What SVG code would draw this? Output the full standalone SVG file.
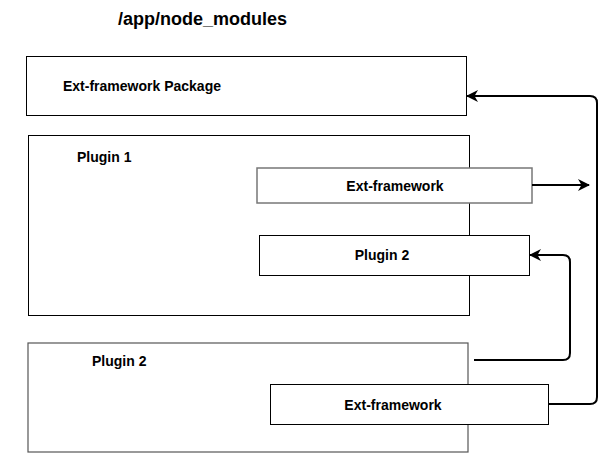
<svg xmlns="http://www.w3.org/2000/svg" width="607" height="454" viewBox="0 0 607 454">
<style>
.box{fill:#fff;stroke:#000;stroke-width:1}
.gbox{fill:#fff;stroke:#777;stroke-width:1.5}
.g2{fill:#fff;stroke:#555;stroke-width:1.2}
.t{font-family:"Liberation Sans",Arial,sans-serif;font-weight:bold;font-size:14px;fill:#000}
.c{fill:none;stroke:#000;stroke-width:2}
</style>
<defs>
<marker id="ah" markerWidth="12" markerHeight="12" refX="11" refY="6" orient="auto" markerUnits="userSpaceOnUse" viewBox="0 0 12 12">
<path d="M0,0 L12,6 L0,12 L3.5,6 Z" fill="#000"/>
</marker>
</defs>
<text x="118" y="25" style="font-family:'Liberation Sans',Arial,sans-serif;font-weight:bold;font-size:18px">/app/node_modules</text>
<g id="pkg">
<rect class="box" x="26.5" y="56.5" width="440" height="59"/>
<text class="t" x="63" y="91">Ext-framework Package</text>
</g>
<g id="plugin1">
<rect class="box" x="28.5" y="135.5" width="441" height="180"/>
<text class="t" x="77" y="162">Plugin 1</text>
</g>
<g id="p1-ext">
<rect class="gbox" x="257" y="168" width="275" height="35"/>
<text class="t" x="395" y="191" text-anchor="middle">Ext-framework</text>
</g>
<g id="p1-plugin2">
<rect class="box" x="259.5" y="235.5" width="270" height="40"/>
<text class="t" x="382" y="260" text-anchor="middle">Plugin 2</text>
</g>
<g id="plugin2">
<rect class="g2" x="28" y="343" width="440" height="109"/>
<text class="t" x="92" y="366">Plugin 2</text>
</g>
<g id="p2-ext">
<rect class="box" x="270.5" y="384.5" width="278" height="40"/>
<text class="t" x="393" y="410" text-anchor="middle">Ext-framework</text>
</g>
<g id="connectors">
<path class="c" d="M548,404 H590 Q597,404 597,397 V103 Q597,96 590,96 H467" marker-end="url(#ah)"/>
<path class="c" d="M532,185 H589" marker-end="url(#ah)"/>
<path class="c" d="M474,360 H563 Q570,360 570,353 V262 Q570,255 563,255 H530" marker-end="url(#ah)"/>
</g>
</svg>
